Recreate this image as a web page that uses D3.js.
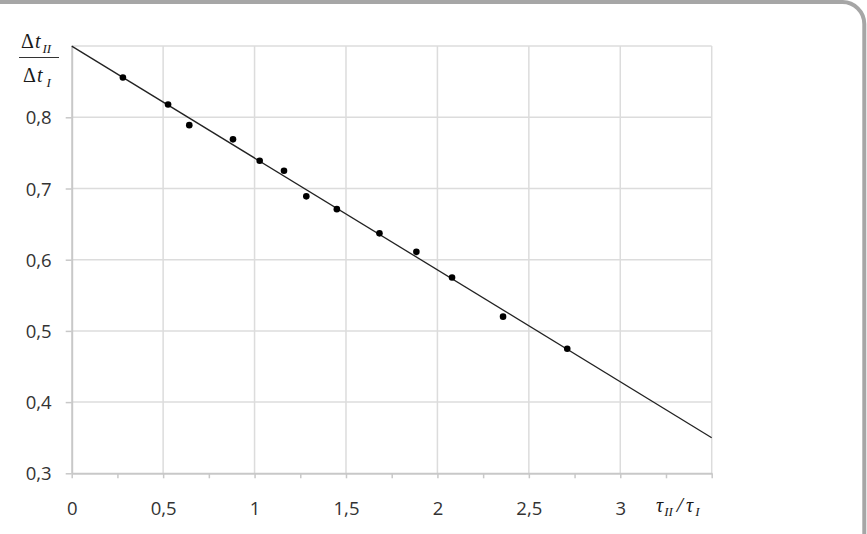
<!DOCTYPE html>
<html>
<head>
<meta charset="utf-8">
<script src="https://cdn.jsdelivr.net/npm/d3@7"></script>
<style>
  html, body { margin: 0; padding: 0; background: #fff; }
  svg { display: block; }
</style>
</head>
<body>
<svg id="chart" width="867" height="534"></svg>
<script>
// measured points (tau_II / tau_I, dt_II / dt_I)
const xValues = [0.28, 0.527, 0.643, 0.882, 1.028, 1.161, 1.283, 1.45, 1.683, 1.885, 2.08, 2.359, 2.71]
const yValues = [0.856, 0.818, 0.789, 0.769, 0.739, 0.725, 0.689, 0.671, 0.637, 0.611, 0.575, 0.52, 0.475]

// fitted straight line
const fitX = [0, 3.5]
const fitY = [0.9, 0.35]

const xTicks = [0, 0.5, 1, 1.5, 2, 2.5, 3]
const xGrid = [0.5, 1, 1.5, 2, 2.5, 3, 3.5]
const xMinor = [0, 0.25, 0.5, 0.75, 1, 1.25, 1.5, 1.75, 2, 2.25, 2.5, 2.75, 3, 3.25, 3.5]
const yTicks = [0.3, 0.4, 0.5, 0.6, 0.7, 0.8]
const yGrid = [0.4, 0.5, 0.6, 0.7, 0.8, 0.9]

const plotLeft = 71.7, plotRight = 711.7, plotTop = 46.1, plotBottom = 473.3

const x = d3.scaleLinear().domain([0, 3.5]).range([plotLeft, plotRight])
const y = d3.scaleLinear().domain([0.3, 0.9]).range([plotBottom, plotTop])

const locale = d3.formatLocale({decimal: ',', thousands: ' ', grouping: [3], currency: ['', '']})
const fmt = v => Number.isInteger(v) ? String(v) : locale.format('.1f')(v)

const svg = d3.select('#chart')

// frame (top band + rounded top-right corner)
svg.append('path')
  .attr('d', 'M0,2 L842,2 A22,22 0 0 1 864.3,24 L864.3,534')
  .attr('fill', 'none')
  .attr('stroke', '#a6a6a6')
  .attr('stroke-width', 4)

// grid
svg.append('g')
  .selectAll('line')
  .data(xGrid)
  .enter()
  .append('line')
  .attr('x1', d => x(d)).attr('x2', d => x(d))
  .attr('y1', plotTop).attr('y2', plotBottom)
  .attr('stroke', '#dcdcdc')
  .attr('stroke-width', 1.5)

svg.append('g')
  .selectAll('line')
  .data(yGrid)
  .enter()
  .append('line')
  .attr('x1', plotLeft).attr('x2', plotRight)
  .attr('y1', d => y(d)).attr('y2', d => y(d))
  .attr('stroke', '#dcdcdc')
  .attr('stroke-width', 1.5)

// x axis: minor ticks, then labels
const xAxis = svg.append('g')
  .attr('transform', `translate(0, ${plotBottom})`)
  .call(d3.axisBottom(x).tickValues(xMinor).tickSize(5).tickSizeOuter(0).tickFormat(''))
xAxis.select('.domain').attr('stroke', '#c8c8c8').attr('stroke-width', 2)
xAxis.selectAll('.tick line').attr('stroke', '#c8c8c8').attr('stroke-width', 1.5)

const xLabels = svg.append('g')
  .attr('transform', `translate(0, ${plotBottom})`)
  .call(d3.axisBottom(x).tickValues(xTicks).tickSize(0).tickFormat(fmt))
xLabels.select('.domain').remove()
xLabels.selectAll('text')
  .attr('y', 42)
  .attr('dy', 0)
  .attr('fill', '#333')
  .style('font-family', '"Open Sans", sans-serif')
  .style('font-size', '18.5px')

// y axis
const yAxis = svg.append('g')
  .attr('transform', `translate(${plotLeft}, 0)`)
  .call(d3.axisLeft(y).tickValues(yTicks).tickSize(6).tickSizeOuter(0).tickPadding(14).tickFormat(fmt))
yAxis.select('.domain').attr('stroke', '#c8c8c8').attr('stroke-width', 2)
yAxis.selectAll('.tick line').attr('stroke', '#c8c8c8').attr('stroke-width', 1.5)
yAxis.selectAll('text')
  .attr('dy', '0.36em')
  .attr('fill', '#333')
  .style('font-family', '"Open Sans", sans-serif')
  .style('font-size', '18.5px')

// fit line
const line = d3.line().x(d => x(d[0])).y(d => y(d[1]))
svg.append('path')
  .datum(d3.zip(fitX, fitY))
  .attr('d', line)
  .attr('fill', 'none')
  .attr('stroke', '#222')
  .attr('stroke-width', 1.3)

// points
svg.append('g')
  .selectAll('circle')
  .data(d3.zip(xValues, yValues))
  .enter()
  .append('circle')
  .attr('cx', d => x(d[0]))
  .attr('cy', d => y(d[1]))
  .attr('r', 3.3)
  .attr('fill', '#000')

// y label: fraction dt_II / dt_I
const serif = '"Liberation Serif", "DejaVu Serif", serif'
const num = svg.append('text')
  .attr('x', 21).attr('y', 48)
  .attr('fill', '#1a1a1a')
  .style('font-family', serif)
  .style('font-size', '20px')
num.append('tspan').text('Δ')
num.append('tspan').attr('dx', 1).style('font-style', 'italic').text('t')
num.append('tspan').attr('dx', 2).attr('dy', 5).style('font-style', 'italic').style('font-size', '13px').text('II')

svg.append('line')
  .attr('x1', 19).attr('x2', 59)
  .attr('y1', 57.5).attr('y2', 57.5)
  .attr('stroke', '#333')
  .attr('stroke-width', 1.2)

const den = svg.append('text')
  .attr('x', 23).attr('y', 81.5)
  .attr('fill', '#1a1a1a')
  .style('font-family', serif)
  .style('font-size', '20px')
den.append('tspan').text('Δ')
den.append('tspan').attr('dx', 1).style('font-style', 'italic').text('t')
den.append('tspan').attr('dx', 4).attr('dy', 5).style('font-style', 'italic').style('font-size', '13px').text('I')

// x label: tau_II / tau_I
const xl = svg.append('text')
  .attr('x', 656).attr('y', 512)
  .attr('fill', '#1a1a1a')
  .style('font-family', serif)
  .style('font-size', '20px')
  .style('font-style', 'italic')
xl.append('tspan').text('τ')
xl.append('tspan').attr('dx', 1).attr('dy', 4).style('font-size', '13px').text('II')
xl.append('tspan').attr('dx', 4).attr('dy', -4).style('font-size', '22px').text('/')
xl.append('tspan').attr('dx', 3).text('τ')
xl.append('tspan').attr('dx', 2).attr('dy', 4).style('font-size', '13px').text('I')
</script>
</body>
</html>
